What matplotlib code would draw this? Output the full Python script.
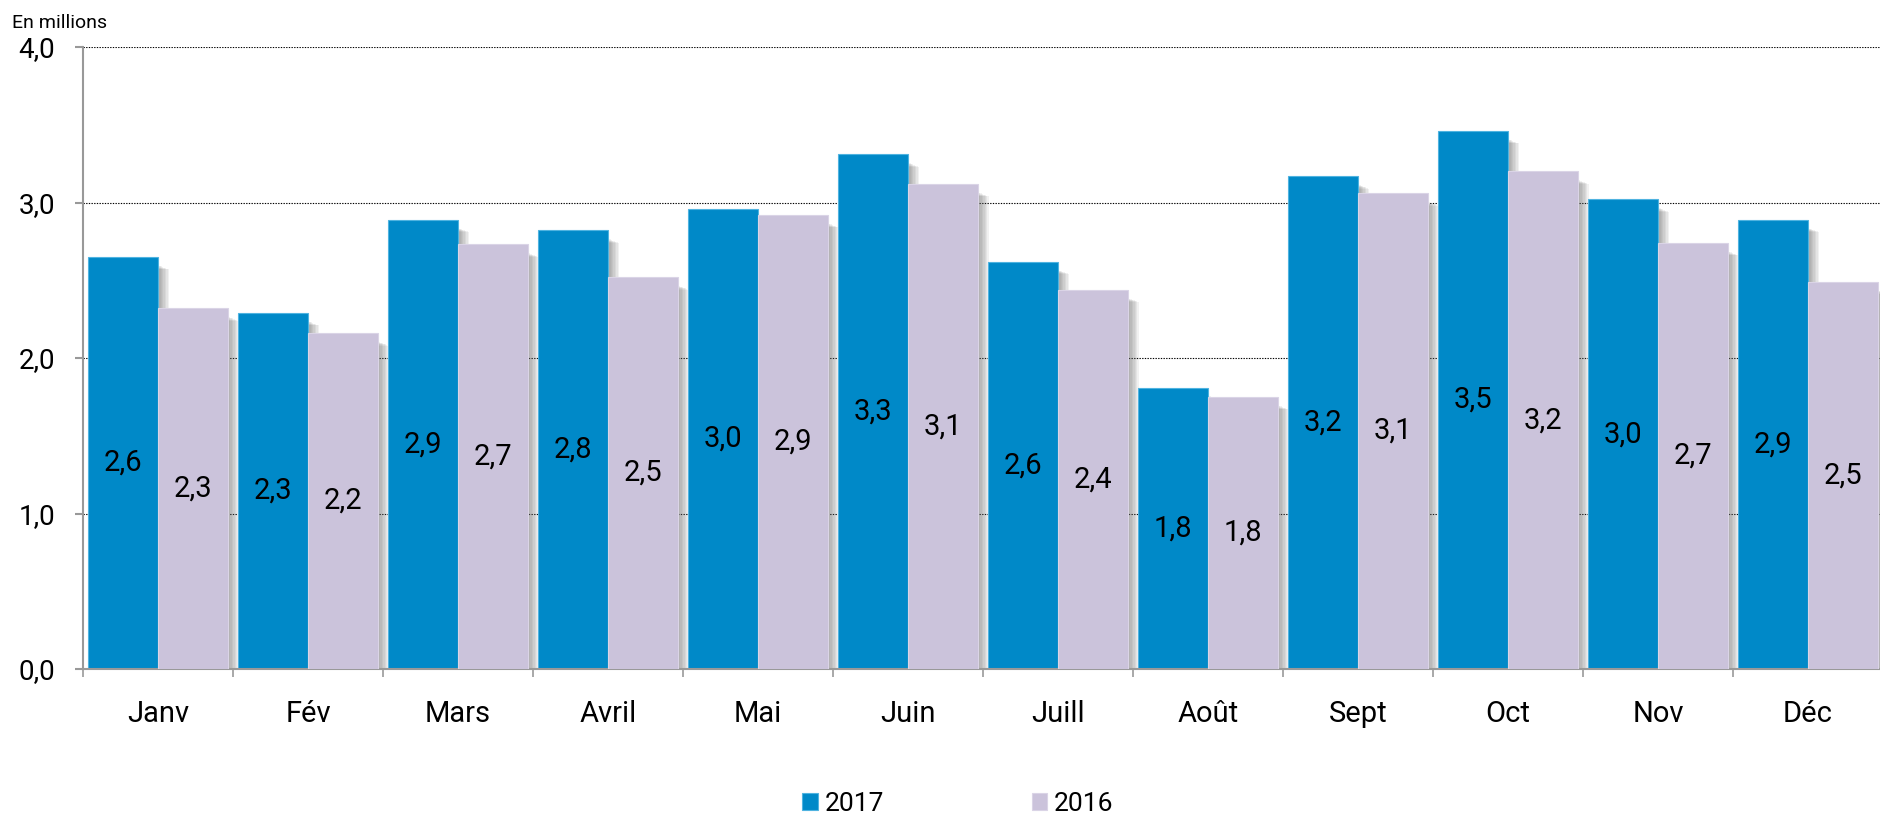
import numpy as np
import matplotlib
matplotlib.use("Agg")
import matplotlib.pyplot as plt
from matplotlib.patches import Rectangle

plt.rcParams['font.family'] = ['Roboto', 'DejaVu Sans']

months = ["Janv", "Fév", "Mars", "Avril", "Mai", "Juin", "Juill", "Août", "Sept", "Oct", "Nov", "Déc"]
v2017 = [2.65, 2.29, 2.89, 2.82, 2.96, 3.31, 2.62, 1.81, 3.17, 3.46, 3.02, 2.89]
v2016 = [2.32, 2.16, 2.73, 2.52, 2.92, 3.12, 2.44, 1.75, 3.06, 3.20, 2.74, 2.49]
yticks = [0, 1, 2, 3, 4]

c2017 = "#0089C8"
c2016 = "#CBC3DB"

fig = plt.figure(figsize=(18.81, 8.13), dpi=100)
ax = fig.add_axes([83 / 1881, 144 / 813, 1800 / 1881, 622 / 813])

x = np.arange(len(months)) + 0.5
w = 0.463
off = 0.2325

def shadow(xs, vals):
    # soft grey shade on the right side of each bar
    n = 8
    for xc, v in zip(xs, vals):
        for i in range(n):
            sw = 0.075 * (i + 1) / n
            top = v - 0.05 - 0.03 * (i + 1) / n
            ax.add_patch(Rectangle((xc + w / 2, 0), sw, top,
                                   facecolor="#666666", alpha=0.09,
                                   edgecolor="none", zorder=1))

shadow(x - off, v2017)
shadow(x + off, v2016)
b1 = ax.bar(x - off, v2017, w, color=c2017, edgecolor="#4FB3E0", linewidth=0.8, zorder=2, label="2017")
b2 = ax.bar(x + off, v2016, w, color=c2016, edgecolor="#DAD4E6", linewidth=0.8, zorder=3, label="2016")

for xs, vals in ((x - off, v2017), (x + off, v2016)):
    for xc, v in zip(xs, vals):
        ax.text(xc, v / 2, f"{v:.1f}".replace(".", ","), ha="center", va="center",
                fontsize=21, color="black", zorder=5)

ax.set_xlim(0, 12)
ax.set_ylim(0, 4)
ax.set_yticks(yticks)
ax.set_yticklabels([f"{t:.1f}".replace(".", ",") for t in yticks], fontsize=20)
ax.yaxis.grid(True, linestyle=(0, (1.2, 1.2)), color="black", linewidth=0.8, zorder=0)
ax.set_axisbelow(True)

ax.set_xticks(x)
ax.set_xticklabels(months, fontsize=21)
ax.set_xticks(np.arange(0, 13), minor=True)
ax.tick_params(axis="x", which="major", length=0, pad=22)
ax.tick_params(axis="x", which="minor", length=6, width=1.2, color="#999999")
ax.tick_params(axis="y", length=6, width=1.5, color="#999999", pad=14)

for s in ("top", "right"):
    ax.spines[s].set_visible(False)
for s in ("left", "bottom"):
    ax.spines[s].set_color("#999999")
    ax.spines[s].set_linewidth(1.5)

fig.text(12 / 1881, 1 - 28 / 813, "En millions", fontsize=14, va="baseline", ha="left")

fig.legend(handles=[b1, b2], labels=["2017", "2016"], loc="center left",
           bbox_to_anchor=(802 / 1881, 1 - 804 / 813), ncol=2, frameon=False,
           fontsize=19, handlelength=0.6, handleheight=0.6, handletextpad=0.25,
           columnspacing=5.6, borderpad=0, borderaxespad=0)

fig.savefig("out.png", dpi=100)
